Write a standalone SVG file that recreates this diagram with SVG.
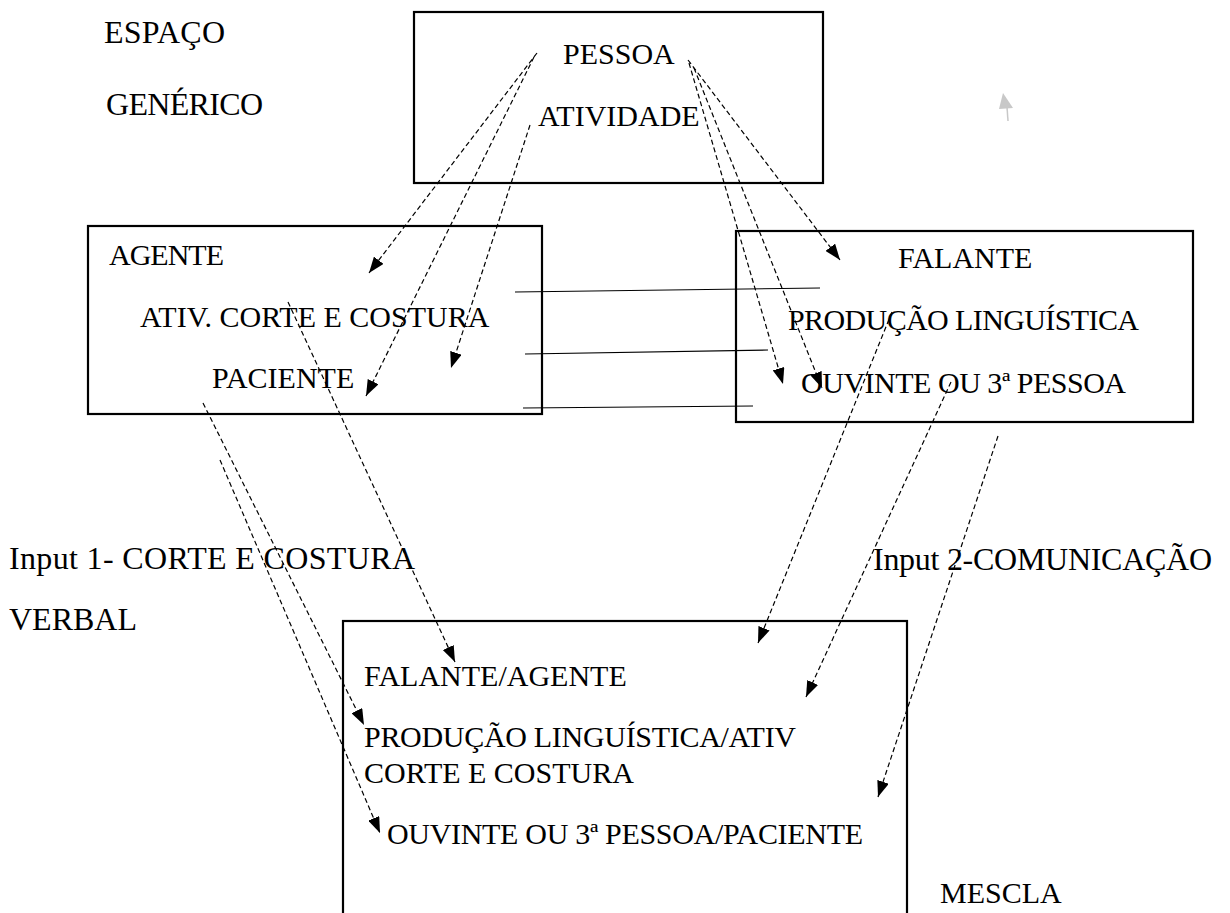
<svg xmlns="http://www.w3.org/2000/svg" width="1230" height="913" viewBox="0 0 1230 913">
<style>
text{font-family:"Liberation Serif","Times New Roman",serif;font-size:30px;fill:#000}
.lbl{font-size:32px}
.box{fill:none;stroke:#000;stroke-width:2.2}
.dash{fill:none;stroke:#000;stroke-width:1.2;stroke-dasharray:5 3}
.solid{fill:none;stroke:#000;stroke-width:1.2}
</style>
<defs>
<marker id="ah" viewBox="0 0 16 12" refX="16" refY="6" markerWidth="16" markerHeight="12" markerUnits="userSpaceOnUse" orient="auto">
<path d="M0,0 L16,6 L0,12 Z" fill="#000"/>
</marker>
</defs>
<rect width="1230" height="913" fill="#fff"/>
<g id="label-generic">
<text class="lbl" x="104" y="43" textLength="121">ESPAÇO</text>
<text class="lbl" x="106" y="115" textLength="157">GENÉRICO</text>
</g>
<g id="generic-space">
<rect class="box" x="414" y="12" width="409" height="171"/>
<text x="563" y="64">PESSOA</text>
<text x="538" y="126">ATIVIDADE</text>
</g>
<g id="input1">
<rect class="box" x="88" y="226" width="454" height="188"/>
<text x="109" y="265" textLength="115">AGENTE</text>
<text x="140" y="327">ATIV. CORTE E COSTURA</text>
<text x="212" y="388">PACIENTE</text>
</g>
<g id="input2">
<rect class="box" x="736" y="231" width="457" height="191"/>
<text x="898" y="268">FALANTE</text>
<text x="788" y="330" textLength="351">PRODUÇÃO LINGUÍSTICA</text>
<text x="801" y="393" textLength="325">OUVINTE OU 3ª PESSOA</text>
</g>
<g id="label-input1">
<text class="lbl" x="9" y="569" textLength="406">Input 1- CORTE E COSTURA</text>
<text class="lbl" x="9" y="630">VERBAL</text>
</g>
<g id="label-input2">
<text class="lbl" x="873" y="570" textLength="339">Input 2-COMUNICAÇÃO</text>
</g>
<g id="blend">
<rect class="box" x="343" y="621" width="564" height="320"/>
<text x="364" y="686">FALANTE/AGENTE</text>
<text x="364" y="747" textLength="432">PRODUÇÃO LINGUÍSTICA/ATIV</text>
<text x="364" y="783">CORTE E COSTURA</text>
<text x="387" y="844" textLength="476">OUVINTE OU 3ª PESSOA/PACIENTE</text>
<text x="940" y="903">MESCLA</text>
</g>
<g id="stray-arrow">
<path d="M1007,107 L1008,121" stroke="#c8c8c8" stroke-width="1.5" fill="none"/>
<path d="M1003,93 L999,109 L1013,108 Z" fill="#c8c8c8"/>
</g>
<g id="connectors">
<line class="solid" x1="515" y1="292" x2="820" y2="288"/>
<line class="solid" x1="525" y1="354" x2="768" y2="350"/>
<line class="solid" x1="523" y1="408" x2="753" y2="406"/>
<line class="dash" x1="537" y1="53" x2="369" y2="273" marker-end="url(#ah)"/>
<line class="dash" x1="534" y1="57" x2="366" y2="396" marker-end="url(#ah)"/>
<line class="dash" x1="530" y1="125" x2="451" y2="368" marker-end="url(#ah)"/>
<line class="dash" x1="688" y1="60" x2="840" y2="260" marker-end="url(#ah)"/>
<line class="dash" x1="689" y1="63" x2="783" y2="384" marker-end="url(#ah)"/>
<line class="dash" x1="694" y1="68" x2="822" y2="388" marker-end="url(#ah)"/>
<line class="dash" x1="288" y1="302" x2="455" y2="662" marker-end="url(#ah)"/>
<line class="dash" x1="203" y1="403" x2="364" y2="725" marker-end="url(#ah)"/>
<line class="dash" x1="220" y1="460" x2="380" y2="833" marker-end="url(#ah)"/>
<line class="dash" x1="892" y1="312" x2="758" y2="643" marker-end="url(#ah)"/>
<line class="dash" x1="951" y1="382" x2="806" y2="697" marker-end="url(#ah)"/>
<line class="dash" x1="998" y1="436" x2="878" y2="797" marker-end="url(#ah)"/>
</g>
</svg>
